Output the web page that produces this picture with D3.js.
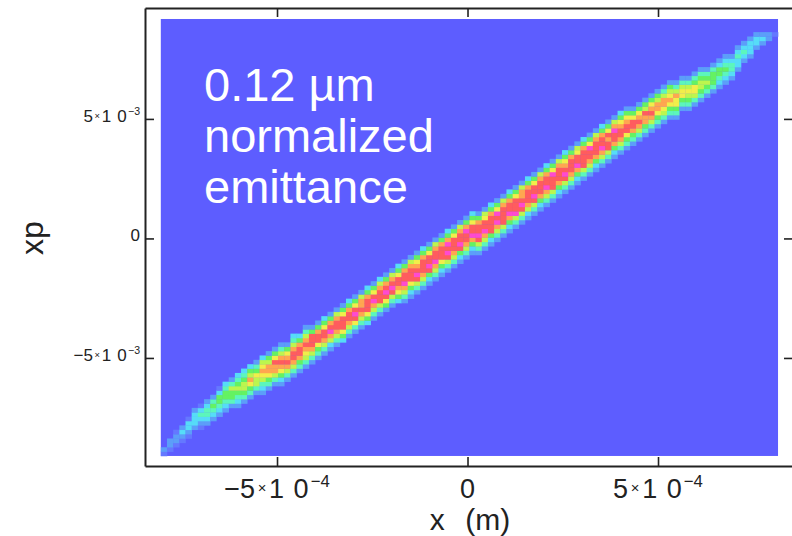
<!DOCTYPE html>
<html>
<head>
<meta charset="utf-8">
<script src="https://cdn.jsdelivr.net/npm/d3@7"></script>
<style>
body{margin:0;background:#fff;}
text{font-family:"Liberation Sans",Arial,sans-serif;fill:#222;}
</style>
</head>
<body>
<div id="chart"></div>
<script>
// axis frame limits: x in m, xp in rad
const xFrame = [-8.465e-4, 8.543e-4];
const xpFrame = [-9.52e-3, 9.64e-3];
// histogram extent and bins per axis
const xRange = [-8.05e-4, 8.15e-4];
const xpRange = [-9.10e-3, 9.18e-3];
const nBins = 100;

const xTicks = [-5e-4, 0, 5e-4];
const xTickMant = ["−5", "0", "5"];
const xTickExp = ["−4", "", "−4"];
const xpTicks = [-5e-3, 0, 5e-3];
const xpTickMant = ["−5", "0", "5"];
const xpTickExp = ["−3", "", "−3"];

const noteLines = ["0.12 µm", "normalized", "emittance"];

// density levels ("A" = highest) and their colours
const levels = "0123456789A".split("");
const levelColors = ["#5d5dff", "#6478ff", "#5c9ef9", "#56dcf8", "#5cf6bc", "#64f262",
                     "#bcf64e", "#f2ee4a", "#ffa650", "#ff5c5e", "#ff4ad0"];

// one entry per x bin: first xp bin that has counts, then levels going up
const colStart = [0,1,2,3,4,6,6,7,8,9,10,11,11,12,13,14,14,15,16,16,17,18,19,20,21,
  22,23,24,25,26,27,28,29,30,31,32,33,34,35,
  35,36,37,38,39,40,41,42,43,44,45,46,
  46,47,48,49,50,51,52,53,54,55,56,57,58,59,60,61,62,63,64,65,66,67,68,69,70,
  71,72,73,74,75,76,77,77,
  79,79,80,81,82,83,84,85,
  86,88,90,91,93,94,95,96];
const colLevels = [
  "12","122","1221","1232","12331","23332","123431","234432","234542","2345531",
  "2345543","2455642","23456543","24566543","24578653","24667542","234678763","245788652","246889752","2357898642",
  "246898752","2468998643","245899853","2467898642","246899952",
  "245799852","246899753","2368A9852","246899862","357999752","246899853","2479A9752","246898862","357999853","2468A9752",
  "246999863","2579A9852","2469A9862","357899753",
  "2468A99852","2357999862","2469A98752","2468999853","2359A99752","2468A99862","2357999852","2469A9A853","2468999752","2359A99862",
  "246899A852","2358A99753",
  "2469A99852","2468A99762","2359999853","2468A9A752","2469999862","2358A99853","246A999752","2469A98862","2368999853","2469A99752",
  "2358999862","2468A99853","246999A752","2358999862","2469A98753","2468999852","2358A99762","2469999853","246899A752","2358999862",
  "2468A99853","2469989752","235899A862","2468998753","2457998752",
  "245899752","246898752","245889652","246898752","245788652","246788642","245787652","245778642",
  "24577642","24567642","24677542","24566542","2456542","2455542","2345532","2345432",
  "234432","233432","23432","23332","2332","232","22","1"
];

const W = 792, H = 536;
const svg = d3.select("#chart").append("svg")
  .attr("width", W).attr("height", H);

const x = d3.scaleLinear().domain(xFrame).range([145, 793]);
const y = d3.scaleLinear().domain(xpFrame).range([466, 8]);
const color = d3.scaleOrdinal().domain(levels).range(levelColors);

const dx = (xRange[1] - xRange[0]) / nBins;
const dy = (xpRange[1] - xpRange[0]) / nBins;

// background of the histogram (empty bins)
svg.append("rect")
  .attr("x", x(xRange[0])).attr("y", y(xpRange[1]))
  .attr("width", x(xRange[1]) - x(xRange[0]))
  .attr("height", y(xpRange[0]) - y(xpRange[1]))
  .attr("fill", color("0"));

const cells = [];
colLevels.forEach((s, c) => {
  s.split("").forEach((lv, k) => cells.push({c: c, r: colStart[c] + k, lv: lv}));
});

svg.append("g").selectAll("rect").data(cells).join("rect")
  .attr("x", d => x(xRange[0] + d.c * dx))
  .attr("y", d => y(xpRange[0] + (d.r + 1) * dy))
  .attr("width", d => x(xRange[0] + (d.c + 1) * dx) - x(xRange[0] + d.c * dx) + 0.3)
  .attr("height", d => y(xpRange[0] + d.r * dy) - y(xpRange[0] + (d.r + 1) * dy) + 0.3)
  .attr("fill", d => color(d.lv));

// frame with inward ticks on all four sides
function styleAxis(g) {
  g.select(".domain").attr("stroke", "#222").attr("stroke-width", 2);
  g.selectAll(".tick line").attr("stroke", "#222").attr("stroke-width", 1.6);
}
svg.append("g").attr("transform", "translate(0," + y.range()[0] + ")")
  .call(d3.axisBottom(x).tickValues(xTicks).tickSize(-9).tickSizeOuter(0).tickFormat(""))
  .call(styleAxis);
svg.append("g").attr("transform", "translate(0," + y.range()[1] + ")")
  .call(d3.axisTop(x).tickValues(xTicks).tickSize(-9).tickSizeOuter(0).tickFormat(""))
  .call(styleAxis);
svg.append("g").attr("transform", "translate(" + x.range()[0] + ",0)")
  .call(d3.axisLeft(y).tickValues(xpTicks).tickSize(-9).tickSizeOuter(0).tickFormat(""))
  .call(styleAxis);
svg.append("g").attr("transform", "translate(" + x.range()[1] + ",0)")
  .call(d3.axisRight(y).tickValues(xpTicks).tickSize(-9).tickSizeOuter(0).tickFormat(""))
  .call(styleAxis);

// tick labels like "5×10^-4"
function sciLabel(t, mant, exp, size) {
  t.style("font-size", size + "px");
  if (!exp) { t.text(mant); return; }
  t.append("tspan").text(mant);
  t.append("tspan").text("×").style("font-size", (size * 0.55) + "px")
    .attr("dx", size * 0.1).attr("dy", -size * 0.2);
  t.append("tspan").text("1").attr("dy", size * 0.2).attr("dx", size * 0.1);
  t.append("tspan").text("0").attr("dx", size * 0.35);
  t.append("tspan").text(exp).style("font-size", (size * 0.62) + "px")
    .attr("dx", size * 0.08).attr("dy", -size * 0.42);
}

svg.append("g").selectAll("text").data(xTicks).join("text")
  .attr("x", d => x(d)).attr("y", 498)
  .attr("text-anchor", "middle")
  .each(function(d, i) { sciLabel(d3.select(this), xTickMant[i], xTickExp[i], 27); });

svg.append("g").selectAll("text").data(xpTicks).join("text")
  .attr("x", 140).attr("y", d => y(d) + 3)
  .attr("text-anchor", "end")
  .each(function(d, i) { sciLabel(d3.select(this), xpTickMant[i], xpTickExp[i], 17); });

// axis titles
svg.append("text").attr("x", 470).attr("y", 530)
  .attr("text-anchor", "middle").style("font-size", "30px")
  .style("word-spacing", "12px").text("x (m)");
svg.append("text")
  .attr("transform", "translate(43,238) rotate(-90)")
  .attr("text-anchor", "middle").style("font-size", "32px").text("xp");

// annotation
svg.append("g").selectAll("text").data(noteLines).join("text")
  .attr("x", 204).attr("y", (d, i) => 101 + i * 51)
  .style("font-size", "47px").style("fill", "#fff")
  .text(d => d);
</script>
</body>
</html>
